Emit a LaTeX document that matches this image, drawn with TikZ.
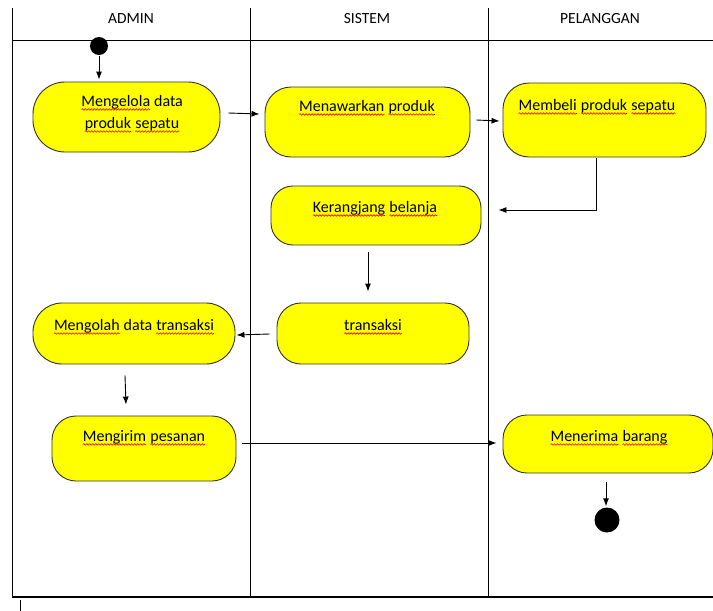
\documentclass[tikz,border=0pt]{standalone}
\usepackage{fontspec}
\setmainfont{Carlito}
\usetikzlibrary{arrows.meta,calc,decorations.pathmorphing}
\definecolor{actyellow}{RGB}{255,255,0}
\newcommand\wv[1]{\tikz[baseline=(wv.base)]{\node[inner sep=0pt,outer sep=0pt](wv){#1};\draw[red,line width=0.6pt,decorate,decoration={snake,amplitude=0.8pt,segment length=3pt}]([yshift=-3pt]wv.base west)--([yshift=-3pt]wv.base east);}}
\begin{document}
\begin{tikzpicture}[x=1pt,y=-1pt,
  act/.style={draw=black!80, fill=actyellow, line width=0.9pt},
  lbl/.style={font=\fontsize{16}{22}\selectfont, inner sep=0pt, align=center},
  hdr/.style={font=\fontsize{15.5}{18}\selectfont, inner sep=0pt},
  arr/.style={-{Latex[length=8pt,width=6pt]}, line width=0.9pt},
  lane/.style={line width=0.8pt}]
\useasboundingbox[fill=white] (0,0) rectangle (713,611);
% swimlanes
\draw[lane] (12,8) -- (12,597);
\draw[lane] (250,8) -- (250,597);
\draw[lane] (488,8) -- (488,597);
\draw[lane] (12,40) -- (713,40);
\draw[line width=1.5pt] (12,597) -- (713,597);
\draw[lane] (20,600) -- (20,611);
\node[hdr] (h1) at (131,19) {ADMIN};
\node[hdr] (h2) at (367,19) {SISTEM};
\node[hdr] (h3) at (600,19) {PELANGGAN};
% start / end
\node[circle, fill=black, minimum size=18pt, inner sep=0pt] (s) at (99,46) {};
\node[circle, fill=black, minimum size=25pt, inner sep=0pt] (e) at (607,520) {};
% activities
\node[act, rounded corners=32pt, minimum width=187pt, minimum height=70pt] (m1) at (126.5,117) {};
\node[act, rounded corners=26pt, minimum width=205pt, minimum height=70pt] (m2) at (367.5,122) {};
\node[act, rounded corners=26pt, minimum width=203pt, minimum height=74pt] (m3) at (604.5,120) {};
\node[act, rounded corners=22pt, minimum width=210pt, minimum height=59pt] (k) at (376,215.5) {};
\node[act, rounded corners=24pt, minimum width=192pt, minimum height=61pt] (t) at (373,333.5) {};
\node[act, rounded corners=29pt, minimum width=202pt, minimum height=61pt] (mo) at (134,333.5) {};
\node[act, rounded corners=24pt, minimum width=184pt, minimum height=65pt] (mi) at (144,448.5) {};
\node[act, rounded corners=24pt, minimum width=210pt, minimum height=58pt] (me) at (608,444) {};
% labels
\node[lbl] (m1t) at (132,114) {\wv{Mengelola} data\\\wv{produk} \wv{sepatu}};
\node[lbl] (m2t) at (367,108) {\wv{Menawarkan} \wv{produk}};
\node[lbl] (m3t) at (597,107) {\wv{Membeli} \wv{produk} \wv{sepatu}};
\node[lbl] (kt) at (375,209) {\wv{Kerangjang} \wv{belanja}};
\node[lbl] (tt) at (373,327) {\wv{transaksi}};
\node[lbl] (mot) at (134,327) {\wv{Mengolah} data \wv{transaksi}};
\node[lbl] (mit) at (144,438) {\wv{Mengirim} \wv{pesanan}};
\node[lbl] (met) at (609,438) {\wv{Menerima} \wv{barang}};
% flows
\draw[arr] ($(s.south)+(0,1)$) -- ($(m1.north)+(-27.5,-2)$);
\draw[arr] ($(m1.east)+(8,-4)$) -- ($(m2.west)+(-5,-8)$);
\draw[arr] ($(m2.east)+(6,-2)$) -- ($(m3.west)+(-3,1)$);
\draw[arr] ($(m3.south)+(-8,1)$) |- ($(k.east)+(17,-5.5)$);
\draw[arr] ($(k.south)+(-8,7)$) -- ($(t.north)+(-5,-11)$);
\draw[arr] ($(t.west)+(-7,0.5)$) -- ($(mo.east)+(1,1.5)$);
\draw[arr] ($(mo.south)+(-9,11)$) -- ($(mi.north)+(-18,-11)$);
\draw[arr] ($(mi.east)+(6,-5.5)$) -- ($(me.west)+(-6,-1)$);
\draw[arr] ($(me.south)+(-2,9)$) -- ($(e.north)+(-1,-1)$);
\end{tikzpicture}
\end{document}
